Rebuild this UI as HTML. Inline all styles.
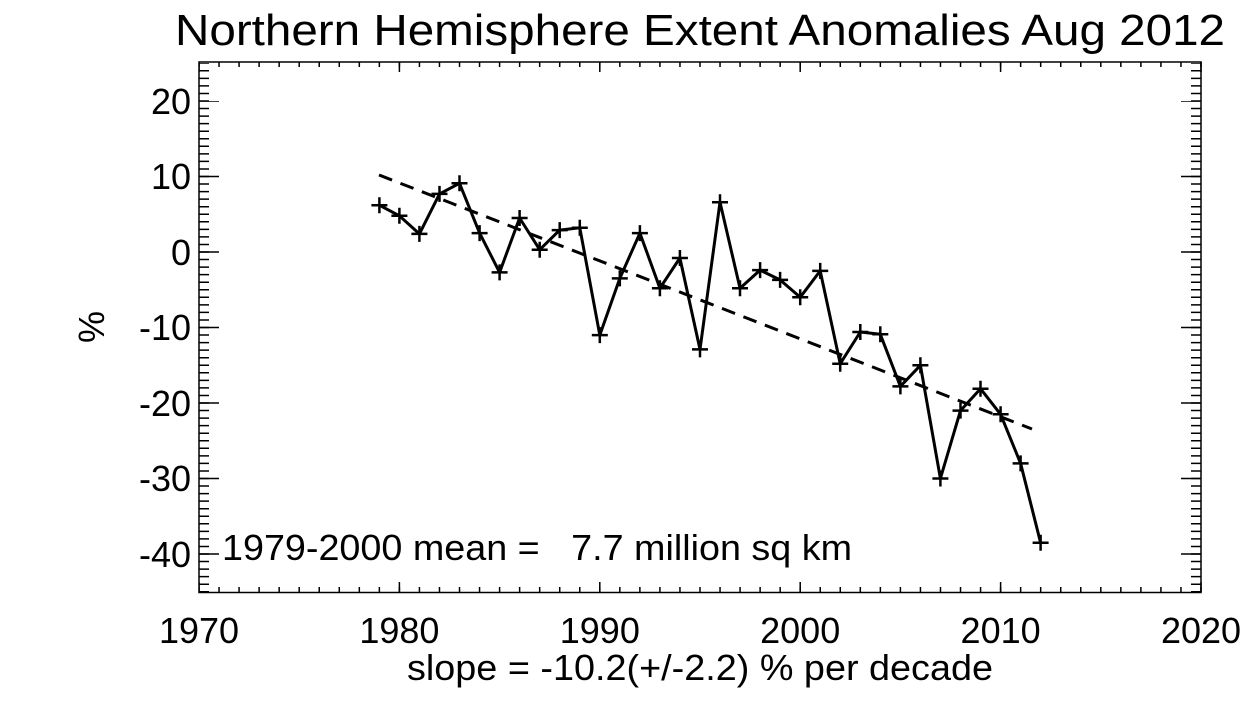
<!DOCTYPE html>
<html><head><meta charset="utf-8"><style>
html,body{margin:0;padding:0;background:#fff;}
svg{display:block;font-family:"Liberation Sans",Arial,sans-serif;}
</style></head><body>
<svg width="1260" height="720" viewBox="0 0 1260 720" xmlns="http://www.w3.org/2000/svg">
<rect width="1260" height="720" fill="#fff"/>
<text x="700" y="45" font-size="44" text-anchor="middle" textLength="1050" lengthAdjust="spacingAndGlyphs">Northern Hemisphere Extent Anomalies Aug 2012</text>
<g stroke="#000" fill="none">
<!-- x minor ticks -->
<line x1="199" y1="589.5" x2="1203" y2="589.5" stroke-width="5" stroke-dasharray="1.5,18.54" stroke-dashoffset="0.75"/>
<line x1="199" y1="64.5" x2="1203" y2="64.5" stroke-width="5" stroke-dasharray="1.5,18.54" stroke-dashoffset="0.75"/>
<!-- x major -->
<line x1="199" y1="587" x2="1203" y2="587" stroke-width="10" stroke-dasharray="1.5,198.9" stroke-dashoffset="0.75"/>
<line x1="199" y1="67" x2="1203" y2="67" stroke-width="10" stroke-dasharray="1.5,198.9" stroke-dashoffset="0.75"/>
<!-- y minor -->
<line x1="204" y1="63.25" x2="204" y2="593" stroke-width="10" stroke-dasharray="1.5,6.05" stroke-dashoffset="0.75"/>
<line x1="1196" y1="63.25" x2="1196" y2="593" stroke-width="10" stroke-dasharray="1.5,6.05" stroke-dashoffset="0.75"/>
<!-- y major -->
<line x1="209" y1="101" x2="209" y2="556" stroke-width="20" stroke-dasharray="1.5,74" stroke-dashoffset="0.75"/>
<line x1="1191" y1="101" x2="1191" y2="556" stroke-width="20" stroke-dasharray="1.5,74" stroke-dashoffset="0.75"/>
</g>
<rect x="199" y="62" width="1002" height="530.5" fill="none" stroke="#000" stroke-width="1.5"/>
<g font-size="36" text-anchor="end">
<text x="191" y="114">20</text>
<text x="191" y="189">10</text>
<text x="191" y="265">0</text>
<text x="191" y="340">-10</text>
<text x="191" y="416">-20</text>
<text x="191" y="491">-30</text>
<text x="191" y="567">-40</text>
</g>
<g font-size="36" text-anchor="middle">
<text x="199" y="643">1970</text>
<text x="399.4" y="643">1980</text>
<text x="599.8" y="643">1990</text>
<text x="800.2" y="643">2000</text>
<text x="1000.6" y="643">2010</text>
<text x="1201" y="643">2020</text>
</g>
<text transform="translate(104,327) rotate(-90)" font-size="36" text-anchor="middle">%</text>
<text x="700" y="680" font-size="36" text-anchor="middle" textLength="586" lengthAdjust="spacingAndGlyphs">slope = -10.2(+/-2.2) % per decade</text>
<text x="222" y="560" font-size="36" xml:space="preserve" textLength="630" lengthAdjust="spacingAndGlyphs">1979-2000 mean =   7.7 million sq km</text>
<line x1="379" y1="175" x2="1032" y2="429" stroke="#000" stroke-width="3" stroke-dasharray="14,9"/>
<polyline fill="none" stroke="#000" stroke-width="3" stroke-linejoin="round" points="379.4,205.2 399.4,215.8 419.4,233.9 439.5,193.9 459.5,183.3 479.6,233.1 499.6,272.4 519.6,218 539.7,249.7 559.7,230.1 579.8,227.8 599.8,335.1 619.8,278.4 639.9,233.1 659.9,288.2 679.9,258 700,349.4 720,202.2 740,288.2 760.1,270.1 780.1,279.9 800.2,297.3 820.2,270.9 840.2,363.7 860.3,332 880.3,334.3 900.4,386.4 920.4,365.3 940.4,478.5 960.5,410.6 980.5,388.7 1000.6,414.3 1020.6,463.4 1040.6,542.7"/>
<path fill="none" stroke="#000" stroke-width="2.5" d="
M371.4,205.2h16M379.4,197.2v16
M391.4,215.8h16M399.4,207.8v16
M411.4,233.9h16M419.4,225.9v16
M431.5,193.9h16M439.5,185.9v16
M451.5,183.3h16M459.5,175.3v16
M471.6,233.1h16M479.6,225.1v16
M491.6,272.4h16M499.6,264.4v16
M511.6,218h16M519.6,210v16
M531.7,249.7h16M539.7,241.7v16
M551.7,230.1h16M559.7,222.1v16
M571.8,227.8h16M579.8,219.8v16
M591.8,335.1h16M599.8,327.1v16
M611.8,278.4h16M619.8,270.4v16
M631.9,233.1h16M639.9,225.1v16
M651.9,288.2h16M659.9,280.2v16
M671.9,258h16M679.9,250v16
M692,349.4h16M700,341.4v16
M712,202.2h16M720,194.2v16
M732,288.2h16M740,280.2v16
M752.1,270.1h16M760.1,262.1v16
M772.1,279.9h16M780.1,271.9v16
M792.2,297.3h16M800.2,289.3v16
M812.2,270.9h16M820.2,262.9v16
M832.2,363.7h16M840.2,355.7v16
M852.3,332h16M860.3,324v16
M872.3,334.3h16M880.3,326.3v16
M892.4,386.4h16M900.4,378.4v16
M912.4,365.3h16M920.4,357.3v16
M932.4,478.5h16M940.4,470.5v16
M952.5,410.6h16M960.5,402.6v16
M972.5,388.7h16M980.5,380.7v16
M992.6,414.3h16M1000.6,406.3v16
M1012.6,463.4h16M1020.6,455.4v16
M1032.6,542.7h16M1040.6,534.7v16"/>
</svg>
</body></html>
